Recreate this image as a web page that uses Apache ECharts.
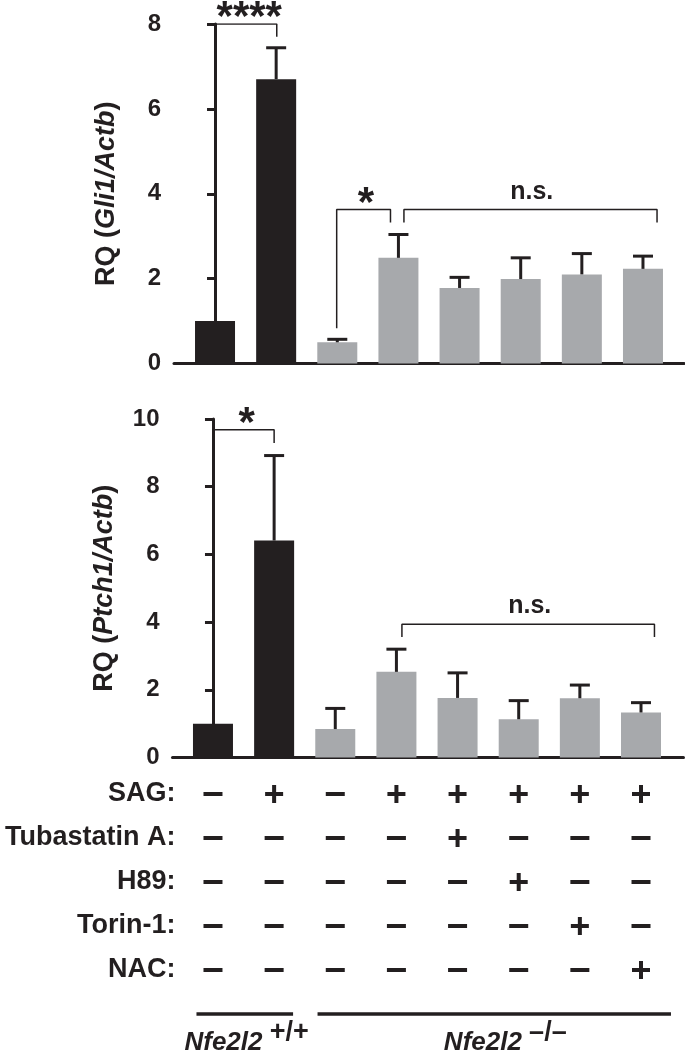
<!DOCTYPE html>
<html><head><meta charset="utf-8">
<script src="https://cdn.jsdelivr.net/npm/echarts@6/dist/echarts.min.js"></script>
<style>html,body{margin:0;padding:0;background:#fff}#c{width:685px;height:1053px}</style>
</head><body><div id="c"></div>
<script>
// ---------- data ----------
const genotype = ['wt', 'wt', 'ko', 'ko', 'ko', 'ko', 'ko', 'ko'];
const gli1Mean  = [1.0, 6.70, 0.50, 2.49, 1.78, 1.99, 2.10, 2.23];
const gli1Upper = [1.0, 7.44, 0.57, 3.04, 2.03, 2.49, 2.59, 2.53];
const ptch1Mean  = [1.0, 6.41, 0.84, 2.53, 1.76, 1.13, 1.75, 1.33];
const ptch1Upper = [1.0, 8.92, 1.45, 3.20, 2.50, 1.68, 2.14, 1.62];

const gli1Axis = {min: 0, max: 8, interval: 2};
const ptch1Axis = {min: 0, max: 10, interval: 2};

// significance brackets (data units): [xLeft, yLeft, xRight, yRight, yTop]
const gli1Brackets = [[0, 1.26, 1.01, 7.7, 8.0], [1.99, 0.83, 2.87, 3.32, 3.63], [3.09, 3.32, 7.23, 3.32, 3.63]];
const gli1BracketText = ['****', '*', 'n.s.'];
const gli1BracketTextX = [0.56, 2.47, 5.18];
const ptch1Brackets = [[0, 1.27, 1.0, 9.29, 9.68], [3.09, 3.56, 7.22, 3.56, 3.94]];
const ptch1BracketText = ['*', 'n.s.'];
const ptch1BracketTextX = [0.55, 5.18];

const treatmentNames = ['SAG:', 'Tubastatin A:', 'H89:', 'Torin-1:', 'NAC:'];
const SAG         = [0, 1, 0, 1, 1, 1, 1, 1];
const tubastatinA = [0, 0, 0, 0, 1, 0, 0, 0];
const H89         = [0, 0, 0, 0, 0, 1, 0, 0];
const torin1      = [0, 0, 0, 0, 0, 0, 1, 0];
const NAC         = [0, 0, 0, 0, 0, 0, 0, 1];

const genotypeNames = ['Nfe2l2', 'Nfe2l2'];
const genotypeSup = ['+/+', '\u2013/\u2013'];
const genotypeSpans = [[-0.27, 1.31], [1.71, 7.49]];
const genotypeTextX = [0.55, 4.78];

// ---------- style ----------
const INK = '#231f20', GREY = '#a7a9ac', BLACK = '#231f20';
const FONT = '"Liberation Sans", Arial, Helvetica, sans-serif';
const PLUS = 'path://M7,0H11V7H18V11H11V18H7V11H0V7H7Z';

const chart = echarts.init(document.getElementById('c'), null, {renderer: 'canvas'});

function barRender(params, api) {
  const x = api.value(0), v = api.value(1);
  const top = api.coord([x, v]), base = api.coord([x, 0]);
  return {type: 'rect', shape: {x: top[0] - 20, y: top[1], width: 40, height: base[1] - top[1]},
          style: {fill: api.value(2) ? GREY : BLACK}};
}
function errRender(params, api) {
  const x = api.value(0), m = api.value(1), u = api.value(2);
  if (u <= m) return null;
  const a = api.coord([x, m]), b = api.coord([x, u]);
  return {type: 'group', children: [
    {type: 'line', shape: {x1: a[0], y1: a[1], x2: b[0], y2: b[1]}, style: {stroke: INK, lineWidth: 3}},
    {type: 'line', shape: {x1: b[0] - 10, y1: b[1], x2: b[0] + 10, y2: b[1]}, style: {stroke: INK, lineWidth: 3}}
  ]};
}

const xRange0 = {min: -0.671, max: 7.671};
const xRange1 = {min: -0.662, max: 7.695};

function yAx(grid, rng, nameIt) {
  return {
    type: 'value', gridIndex: grid, min: rng.min, max: rng.max, interval: rng.interval,
    axisLine: {show: true, lineStyle: {color: INK, width: 3}},
    axisTick: {show: true, length: 8, lineStyle: {color: INK, width: 3}},
    axisLabel: {color: INK, fontSize: 24, fontWeight: 'bold', fontFamily: FONT, margin: 13},
    splitLine: {show: false},
    name: '{a|RQ (}{b|' + nameIt + '}{a|)}', nameLocation: 'middle', nameRotate: 90, nameGap: 54,
    nameTextStyle: {rich: {
      a: {fontSize: 27, fontWeight: 'bold', fontFamily: FONT, color: INK},
      b: {fontSize: 27, fontWeight: 'bold', fontStyle: 'italic', fontFamily: FONT, color: INK}
    }}
  };
}
function xAx(grid, rng, showLine) {
  return {type: 'value', gridIndex: grid, min: rng.min, max: rng.max,
    axisLine: {show: showLine, onZero: false, lineStyle: {color: INK, width: 3}},
    axisTick: {show: false}, axisLabel: {show: false}, splitLine: {show: false}};
}

const series = [];
function addChart(grid, mean, upper, brackets, btext, btextX, textOffsets) {
  series.push({type: 'custom', xAxisIndex: grid, yAxisIndex: grid, renderItem: barRender,
    data: mean.map((v, i) => [i, v, genotype[i] === 'wt' ? 0 : 1]), silent: true});
  series.push({type: 'custom', xAxisIndex: grid, yAxisIndex: grid, renderItem: errRender,
    data: mean.map((v, i) => [i, v, upper[i]]), silent: true, z: 3});
  brackets.forEach((b, k) => {
    series.push({type: 'line', xAxisIndex: grid, yAxisIndex: grid, symbol: 'none', silent: true,
      lineStyle: {color: INK, width: 1.5},
      data: [[b[0], b[1]], [b[0], b[4]], [b[2], b[4]], [b[2], b[3]]]});
    const isNS = btext[k] === 'n.s.';
    series.push({type: 'scatter', xAxisIndex: grid, yAxisIndex: grid, symbolSize: 0, silent: true, clip: false,
      itemStyle: {opacity: 1}, data: [[btextX[k], b[4]]],
      label: {show: true, position: 'inside', formatter: btext[k], color: INK, fontFamily: FONT,
        fontWeight: 'bold', fontSize: isNS ? 25 : 42, offset: [0, textOffsets[k]]}});
  });
}
addChart(0, gli1Mean, gli1Upper, gli1Brackets, gli1BracketText, gli1BracketTextX, [-6, -5, -17]);
addChart(1, ptch1Mean, ptch1Upper, ptch1Brackets, ptch1BracketText, ptch1BracketTextX, [-5, -18]);

// treatment table
const rows = [SAG, tubastatinA, H89, torin1, NAC];
const tableData = [];
rows.forEach((arr, r) => arr.forEach((on, i) => {
  tableData.push({value: [i, r], symbol: on ? PLUS : 'rect', symbolSize: on ? [18, 18] : [19, 4]});
}));
series.push({type: 'scatter', xAxisIndex: 2, yAxisIndex: 2, data: tableData, silent: true,
  itemStyle: {color: INK, opacity: 1}});
// genotype underline + labels
genotypeSpans.forEach((s, k) => {
  series.push({type: 'line', xAxisIndex: 2, yAxisIndex: 2, symbol: 'none', silent: true,
    lineStyle: {color: INK, width: 3.5}, data: [[s[0], 5], [s[1], 5]]});
  series.push({type: 'scatter', xAxisIndex: 2, yAxisIndex: 2, symbolSize: 0, silent: true, clip: false,
    itemStyle: {opacity: 1}, data: [[genotypeTextX[k], 5]],
    label: {show: true, position: 'inside', offset: [0, 29],
      formatter: '{it|' + genotypeNames[k] + '}{sp| }{sup|' + genotypeSup[k] + '}',
      rich: {
        it: {fontSize: 26, fontWeight: 'bold', fontStyle: 'italic', fontFamily: FONT, color: INK},
        sp: {fontSize: 26, fontFamily: FONT},
        sup: {fontSize: 27, fontWeight: 'bold', fontFamily: FONT, color: INK, padding: [0, 0, 20, 0]}
      }}});
});

const option = {
  animation: false,
  backgroundColor: '#fff',
  grid: [
    {left: 174, top: 24, width: 510, height: 339.5},
    {left: 172.5, top: 419, width: 511, height: 338.5},
    {left: 172.5, top: 772, width: 511, height: 264}
  ],
  xAxis: [xAx(0, xRange0, true), xAx(1, xRange1, true), xAx(2, xRange1, false)],
  yAxis: [
    yAx(0, gli1Axis, 'Gli1/Actb'),
    yAx(1, ptch1Axis, 'Ptch1/Actb'),
    {type: 'category', gridIndex: 2, inverse: true, data: treatmentNames.concat(['']),
      axisLine: {show: false}, axisTick: {show: false}, splitLine: {show: false},
      axisLabel: {color: INK, fontSize: 27, fontWeight: 'bold', fontFamily: FONT, margin: -3}}
  ],
  series: series
};
chart.setOption(option);
</script>
</body></html>
